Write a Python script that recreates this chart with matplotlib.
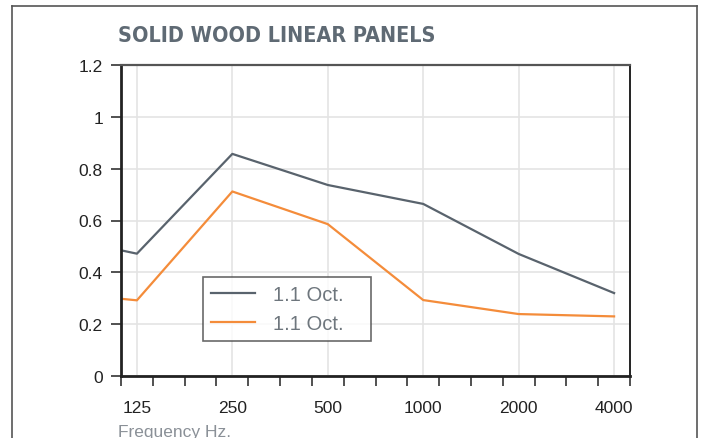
import matplotlib.pyplot as plt
from matplotlib.lines import Line2D
from matplotlib.ticker import FixedLocator, NullFormatter, FixedFormatter

# third-octave index positions (125 Hz sits at 0.5)
x_pos = [0, 0.5, 3.5, 6.5, 9.5, 12.5, 15.5]
gray_vals = [0.485, 0.472, 0.857, 0.737, 0.664, 0.471, 0.320]
orange_vals = [0.298, 0.292, 0.712, 0.586, 0.293, 0.239, 0.230]

freq_pos = [0.5, 3.5, 6.5, 9.5, 12.5, 15.5]
freq_labels = ["125", "250", "500", "1000", "2000", "4000"]
y_ticks = [0, 0.2, 0.4, 0.6, 0.8, 1.0, 1.2]
y_labels = ["0", "0.2", "0.4", "0.6", "0.8", "1", "1.2"]

series_names = ["1.1 Oct.", "1.1 Oct."]
GRAY = "#59636d"
ORANGE = "#f48c3a"
TEXT_GRAY = "#6e767d"

plt.rcParams['font.family'] = ['Liberation Sans', 'DejaVu Sans']

fig = plt.figure(figsize=(7.03, 4.39), dpi=100)

# outer frame (open at the bottom)
W, H = 703.0, 439.0
fig.add_artist(Line2D([12 / W, 12 / W], [0, 1 - 7 / H], color="#555555", lw=1.2))
fig.add_artist(Line2D([12 / W, 697 / W], [1 - 7 / H, 1 - 7 / H], color="#555555", lw=1.2))
fig.add_artist(Line2D([697 / W, 697 / W], [0, 1 - 7 / H], color="#555555", lw=1.2))

ax = fig.add_axes([121 / W, 62 / H, 509 / W, 311 / H])

ax.plot(x_pos, gray_vals, color=GRAY, lw=1.6, label=series_names[0])
ax.plot(x_pos, orange_vals, color=ORANGE, lw=1.6, label=series_names[1])

ax.set_xlim(0, 16)
ax.set_ylim(0, 1.2)

# x: integer ticks without labels, labels at band centres
ax.xaxis.set_major_locator(FixedLocator(range(17)))
ax.xaxis.set_major_formatter(NullFormatter())
ax.xaxis.set_minor_locator(FixedLocator(freq_pos))
ax.xaxis.set_minor_formatter(FixedFormatter(freq_labels))
ax.tick_params(axis="x", which="major", direction="out", length=7, width=1.1, color="#222222")
ax.tick_params(axis="x", which="minor", length=0, pad=17, labelsize=12.5, labelcolor="#222222")

ax.set_yticks(y_ticks)
ax.set_yticklabels(y_labels)
ax.tick_params(axis="y", direction="out", length=7, width=1.1, color="#222222",
               labelsize=12.5, labelcolor="#222222", pad=6)

ax.grid(True, axis="y", which="major", color="#e4e4e4", lw=1.2)
ax.grid(True, axis="x", which="minor", color="#e4e4e4", lw=1.2)
ax.set_axisbelow(True)

ax.spines["left"].set_linewidth(2.0)
ax.spines["left"].set_color("#222222")
ax.spines["bottom"].set_linewidth(2.0)
ax.spines["bottom"].set_color("#222222")
ax.spines["top"].set_linewidth(1.6)
ax.spines["top"].set_color("#555555")
ax.spines["right"].set_linewidth(1.4)
ax.spines["right"].set_color("#222222")

leg = ax.legend(loc="lower left", bbox_to_anchor=(0.161, 0.112, 0.33, 0.21), mode="expand",
                frameon=True, fancybox=False, fontsize=14.5, handlelength=2.2,
                handletextpad=0.9, borderpad=0.4, labelspacing=0.5, borderaxespad=0)
leg.get_frame().set_edgecolor("#444444")
leg.get_frame().set_linewidth(1.2)
for t in leg.get_texts():
    t.set_color(TEXT_GRAY)

fig.text(118 / W, 1 - 36 / H, "SOLID WOOD LINEAR PANELS", fontsize=15.5, fontweight="bold",
         family="DejaVu Sans", fontstretch="condensed", color="#5f6a74", va="center")
fig.text(118 / W, 1 - 433 / H, "Frequency Hz.", fontsize=12.5, color="#8a9097", va="center")

fig.savefig("out.png", dpi=100)
